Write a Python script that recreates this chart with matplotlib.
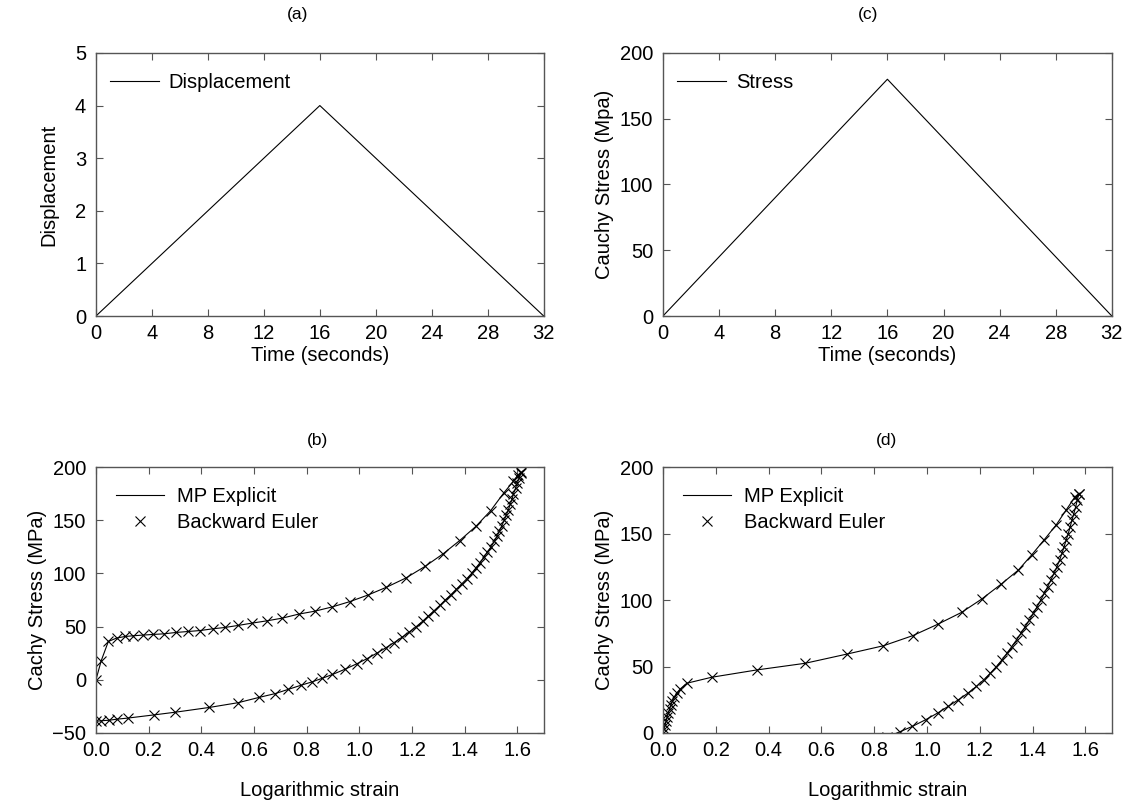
import matplotlib.pyplot as plt
import matplotlib.ticker as ticker

plt.rcParams['font.family'] = ['Liberation Sans', 'DejaVu Sans']
plt.rcParams['font.size'] = 14.5

# (a) displacement and (c) stress histories
time_pts = [0, 16, 32]
disp_pts = [0, 4, 0]
stress_pts = [0, 180, 0]

# (b) loading / unloading branch
b_load_x = [0.0, 0.02, 0.047, 0.078, 0.110, 0.142, 0.177, 0.215, 0.258, 0.304, 0.350, 0.395,
            0.443, 0.490, 0.540, 0.593, 0.651, 0.708, 0.769, 0.831, 0.897, 0.964, 1.034,
            1.103, 1.176, 1.249, 1.318, 1.381, 1.442, 1.498, 1.548, 1.584, 1.603, 1.613]
b_load_y = [0, 18, 36, 39.2, 40.7, 41.4, 42.0, 42.6, 43.2, 44.5, 45.4, 46.3,
            47.9, 49.2, 51.1, 53.3, 55.5, 58.0, 61.7, 64.5, 68.5, 73.5, 79.8,
            87, 95.6, 106.5, 118.4, 130.9, 144.1, 158.8, 175.5, 186.4, 192.7, 194.8]
b_unload_x = [1.615, 1.607, 1.600, 1.593, 1.585, 1.580, 1.573, 1.566, 1.558, 1.550, 1.541,
              1.532, 1.523, 1.512, 1.500, 1.486, 1.472, 1.458, 1.442, 1.426, 1.408, 1.388,
              1.368, 1.348, 1.326, 1.306, 1.284, 1.262, 1.240, 1.216, 1.190, 1.162, 1.132,
              1.100, 1.066, 1.030, 0.990, 0.946, 0.898, 0.860, 0.820, 0.780, 0.730, 0.680,
              0.620, 0.540, 0.430, 0.300, 0.220, 0.120, 0.080, 0.050, 0.020, 0.0]
b_unload_y = [195, 190, 185, 180, 175, 170, 165, 160, 155, 150, 145,
              140, 135, 130, 125, 120, 115, 110, 105, 100, 95, 90,
              85, 80, 75, 70, 65, 60, 55, 50, 45, 40, 35,
              30, 25, 20, 15, 10, 5, 1.5, -2, -5, -9, -13,
              -16.5, -21.5, -26, -30.5, -33, -36, -37, -38, -38.5, -39]

# (d) loading / unloading branch
d_load_x = [0.0, 0.004, 0.008, 0.012, 0.016, 0.020, 0.025, 0.030, 0.036, 0.043, 0.052, 0.065,
            0.090, 0.184, 0.355, 0.538, 0.698, 0.835, 0.946, 1.040, 1.131, 1.207, 1.280,
            1.346, 1.396, 1.443, 1.489, 1.527, 1.561, 1.575]
d_load_y = [0, 3, 6, 9, 12, 15, 18, 21, 24, 27, 30, 33,
            37.4, 41.9, 47.4, 52.4, 59.4, 65.6, 73.2, 81.7, 90.7, 100.7, 111.8,
            122.5, 133.8, 145.1, 156.4, 167.7, 177.7, 180]
d_unload_x = [1.575, 1.569, 1.563, 1.556, 1.549, 1.542, 1.535, 1.527, 1.519, 1.511, 1.502,
              1.492, 1.481, 1.469, 1.457, 1.444, 1.431, 1.417, 1.403, 1.388, 1.372, 1.356,
              1.339, 1.321, 1.303, 1.284, 1.263, 1.240, 1.215, 1.187, 1.155, 1.119, 1.080,
              1.040, 0.995, 0.945, 0.898, 0.850]
d_unload_y = [180, 175, 170, 165, 160, 155, 150, 145, 140, 135, 130,
              125, 120, 115, 110, 105, 100, 95, 90, 85, 80, 75,
              70, 65, 60, 55, 50, 45, 40, 35, 30, 25, 20,
              15, 10, 5, 1, -3]

fig = plt.figure(figsize=(11.25, 8.07), dpi=100)
ax_a = fig.add_axes([0.0853, 0.6084, 0.398, 0.326])
ax_c = fig.add_axes([0.5893, 0.6084, 0.399, 0.326])
ax_b = fig.add_axes([0.0853, 0.0917, 0.398, 0.3296])
ax_d = fig.add_axes([0.5893, 0.0917, 0.399, 0.3296])


def style(ax):
    for s in ax.spines.values():
        s.set_color('#555555')
        s.set_linewidth(1.0)
    ax.tick_params(direction='in', top=True, right=True, length=5, width=0.8,
                   color='#555555', labelsize=14.5, pad=6)
    ax.tick_params(axis='y', pad=7)


ax_a.plot(time_pts, disp_pts, 'k-', lw=0.8, label='Displacement')
ax_a.set_xlim(0, 32)
ax_a.set_ylim(0, 5)
ax_a.xaxis.set_major_locator(ticker.MultipleLocator(4))
ax_a.set_xlabel('Time (seconds)', labelpad=2)
ax_a.set_ylabel('Displacement', labelpad=12)

ax_c.plot(time_pts, stress_pts, 'k-', lw=0.8, label='Stress')
ax_c.set_xlim(0, 32)
ax_c.set_ylim(0, 200)
ax_c.xaxis.set_major_locator(ticker.MultipleLocator(4))
ax_c.yaxis.set_major_locator(ticker.MultipleLocator(50))
ax_c.set_xlabel('Time (seconds)', labelpad=2)
ax_c.set_ylabel('Cauchy Stress (Mpa)', labelpad=4)

for ax, lx, ly, ux, uy, ylo in [
        (ax_b, b_load_x, b_load_y, b_unload_x, b_unload_y, -50),
        (ax_d, d_load_x, d_load_y, d_unload_x, d_unload_y, 0)]:
    ax.plot(lx + ux, ly + uy, 'k-', lw=0.8, label='MP Explicit')
    ax.plot(lx + ux, ly + uy, 'kx', ms=7, mew=0.8, label='Backward Euler')
    ax.set_xlim(0, 1.7)
    ax.set_ylim(ylo, 200)
    ax.xaxis.set_major_locator(ticker.MultipleLocator(0.2))
    ax.xaxis.set_major_formatter(ticker.FormatStrFormatter('%.1f'))
    ax.yaxis.set_major_locator(ticker.MultipleLocator(50))
    ax.set_xlabel('Logarithmic strain', labelpad=15)
    ax.set_ylabel('Cachy Stress (MPa)', labelpad=4)

for ax in [ax_a, ax_b, ax_c, ax_d]:
    style(ax)

for ax in [ax_a, ax_c]:
    ax.legend(loc='upper left', bbox_to_anchor=(-0.013, 1.0), frameon=False,
              fontsize=14.5, handlelength=2.4, handletextpad=0.5, borderaxespad=0.6)
for ax in [ax_b, ax_d]:
    ax.legend(loc='upper left', frameon=False, fontsize=14.5, handlelength=2.4,
              handletextpad=0.6, labelspacing=0.35, borderaxespad=0.6)

fig.text(298 / 1125, 1 - 15 / 807, '(a)', ha='center', va='center', fontsize=12.5)
fig.text(868 / 1125, 1 - 15 / 807, '(c)', ha='center', va='center', fontsize=12.5)
fig.text(318 / 1125, 1 - 440 / 807, '(b)', ha='center', va='center', fontsize=12.5)
fig.text(887 / 1125, 1 - 440 / 807, '(d)', ha='center', va='center', fontsize=12.5)

fig.savefig('out.png', dpi=100)
